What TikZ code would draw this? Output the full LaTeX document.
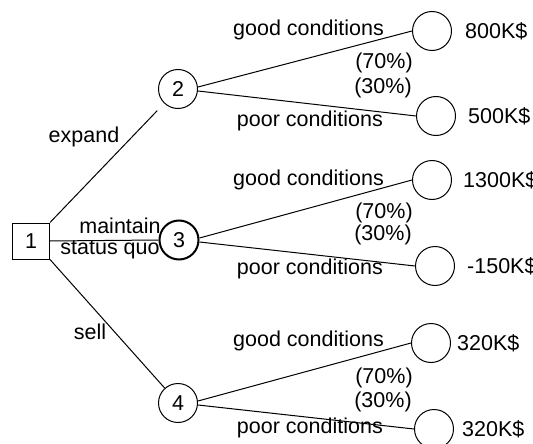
\documentclass[tikz,border=0pt]{standalone}
\usepackage{fontspec}
\setmainfont{Liberation Sans}
\usetikzlibrary{positioning}

\begin{document}
\begin{tikzpicture}[
    x=1pt, y=-1pt,
    every node/.style={font=\fontsize{21.5}{24}\selectfont},
    decision/.style={draw, line width=1pt, minimum width=37pt,
                     minimum height=36pt, inner sep=0pt},
    chance/.style={draw, circle, line width=1pt, minimum size=39pt,
                   inner sep=0pt},
    outcome/.style={draw, circle, line width=1pt, minimum size=39pt,
                    inner sep=0pt},
    lbl/.style={inner sep=0pt},
    branch/.style={line width=1pt},
  ]
    \useasboundingbox (0,0) rectangle (533,444);

    % decision and chance nodes
    \node[decision] (n1) at (31,241) {1};
    \node[chance] (n2) at (178,89) {2};
    \node[chance, line width=2pt] (n3) at (179,240) {3};
    \node[chance] (n4) at (178,403) {4};

    % outcomes
    \node[outcome] (g2) at (432,31) {};
    \node[outcome] (p2) at (436,116) {};
    \node[outcome] (g3) at (432,180) {};
    \node[outcome] (p3) at (435,266) {};
    \node[outcome] (g4) at (431,343) {};
    \node[outcome] (p4) at (434,429) {};

    \node[lbl, right=13pt of g2] (v2g) {800K\$};
    \node[lbl, right=12pt of p2] (v2p) {500K\$};
    \node[lbl, right=11pt of g3] (v3g) {1300K\$};
    \node[lbl, right=12pt of p3] (v3p) {-150K\$};
    \node[lbl, right=6pt of g4] (v4g) {320K\$};
    \node[lbl, right=8pt of p4] (v4p) {320K\$};

    % first choice
    \draw[branch, shorten >=10pt] (n1.north east) -- (n2);
    \draw[branch] (n1.east) -- (n3.west);
    \draw[branch] (n1.south east) -- (n4);
    \node[lbl] (lexp) at (84,137) {expand};
    \node[lbl] (lmnt) at (120,226) {maintain};
    \node[lbl] (lstq) at (110,250) {status quo};
    \node[lbl] (lsel) at (90,332) {sell};

    % market conditions
    \draw[branch] ([yshift=2pt]n2.east) -- (g2.west);
    \draw[branch] ([yshift=-2pt]n2.east) -- (p2.west);
    \draw[branch] ([yshift=2pt]n3.east) -- (g3.west);
    \draw[branch] ([yshift=-2pt]n3.east) -- (p3.west);
    \draw[branch] ([yshift=2pt]n4.east) -- (g4.west);
    \draw[branch] ([yshift=-2pt]n4.east) -- (p4.west);

    \node[lbl, anchor=east] (c2g) at (384,30) {good conditions};
    \node[lbl] (r2g) at (384,63) {(70\%)};
    \node[lbl] (r2p) at (383,88) {(30\%)};
    \node[lbl, anchor=east] (c2p) at (383,121) {poor conditions};

    \node[lbl, anchor=east] (c3g) at (384,180) {good conditions};
    \node[lbl] (r3g) at (384,213) {(70\%)};
    \node[lbl] (r3p) at (383,235) {(30\%)};
    \node[lbl, anchor=east] (c3p) at (383,269) {poor conditions};

    \node[lbl, anchor=east] (c4g) at (384,341) {good conditions};
    \node[lbl] (r4g) at (384,378) {(70\%)};
    \node[lbl] (r4p) at (383,402) {(30\%)};
    \node[lbl, anchor=east] (c4p) at (383,428) {poor conditions};
  \end{tikzpicture}
\end{document}
